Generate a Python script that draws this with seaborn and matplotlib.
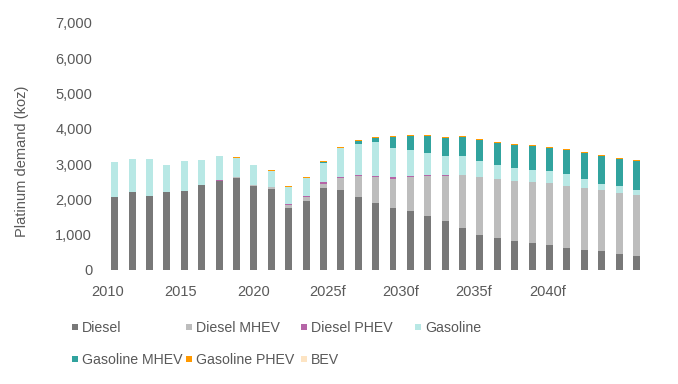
import matplotlib
matplotlib.use("Agg")
import matplotlib.pyplot as plt
from matplotlib.lines import Line2D
import numpy as np
import pandas as pd
import seaborn as sns

years = list(range(2010, 2041))
series = ["Diesel", "Diesel MHEV", "Diesel PHEV", "Gasoline",
          "Gasoline MHEV", "Gasoline PHEV", "BEV"]

diesel = [2068, 2210, 2096, 2210, 2238, 2408, 2521, 2606, 2380, 2295,
          1756, 1955, 2323, 2266, 2068, 1898, 1756, 1671, 1530, 1388,
          1190, 992, 907, 822, 765, 708, 623, 567, 538, 453, 396]
diesel_mhev = [0, 0, 0, 0, 0, 0, 0, 30, 30, 55,
               85, 113, 113, 340, 595, 736, 821, 963, 1133, 1275,
               1501, 1643, 1671, 1700, 1728, 1756, 1756, 1756, 1728, 1728, 1728]
diesel_phev = [0, 0, 0, 0, 0, 0, 30, 0, 0, 0,
               30, 30, 57, 28, 28, 28, 57, 28, 28, 15,
               10, 0, 0, 0, 0, 0, 0, 0, 0, 0, 0]
gasoline = [992, 935, 1049, 765, 850, 708, 679, 537, 565, 455,
            480, 517, 538, 822, 878, 964, 822, 737, 623, 551,
            528, 453, 397, 368, 340, 341, 341, 255, 170, 199, 142]
gasoline_mhev = [0, 0, 0, 0, 0, 0, 0, 0, 0, 0,
                 0, 0, 28, 10, 85, 113, 311, 397, 482, 510,
                 538, 595, 623, 652, 680, 652, 680, 736, 793, 765, 822]
gasoline_phev = [0, 0, 0, 0, 0, 0, 0, 30, 0, 30,
                 30, 20, 28, 28, 28, 28, 28, 28, 28, 28,
                 28, 28, 28, 28, 28, 28, 28, 28, 28, 28, 28]
bev = [0] * 31

xtick_labels = ["2010", "2015", "2020", "2025f", "2030f", "2035f", "2040f"]
ytick_values = [0, 1000, 2000, 3000, 4000, 5000, 6000, 7000]

colors = {
    "Diesel": "#787878",
    "Diesel MHEV": "#bdbdbd",
    "Diesel PHEV": "#b565a7",
    "Gasoline": "#b8e8e5",
    "Gasoline MHEV": "#31a39e",
    "Gasoline PHEV": "#ff9900",
    "BEV": "#fde4c3",
}

values = [diesel, diesel_mhev, diesel_phev, gasoline, gasoline_mhev, gasoline_phev, bev]
rows = []
for name, vals in zip(series, values):
    for y, v in zip(years, vals):
        rows.append({"year": y, "series": name, "value": v})
df = pd.DataFrame(rows)

sns.set_theme(style="white")
plt.rcParams["font.family"] = ["Liberation Sans", "DejaVu Sans"]
text_color = "#595959"

fig = plt.figure(figsize=(6.78, 3.84), dpi=100)
ax = fig.add_axes([0.1565, 0.297, 0.795, 0.6435])

sns.histplot(data=df, x="year", weights="value", hue="series",
             hue_order=series[::-1], multiple="stack", discrete=True,
             shrink=0.4, palette=colors, alpha=1, linewidth=0,
             edgecolor="none", legend=False, ax=ax)

ax.set_xlim(2009.5, 2040.5)
ax.set_ylim(0, 7000)
ax.set_yticks(ytick_values)
ax.set_yticklabels([f"{v:,}" for v in ytick_values])
tick_pos = np.linspace(2009.57, 2034.87, len(xtick_labels))
ax.set_xticks(tick_pos)
ax.set_xticklabels(xtick_labels)
ax.tick_params(axis="both", length=0, labelsize=10.5, colors=text_color)
ax.tick_params(axis="x", pad=11)
ax.tick_params(axis="y", pad=10)
ax.set_xlabel("")
ax.set_ylabel("Platinum demand (koz)", fontsize=10.5, color=text_color)
ax.yaxis.set_label_coords(-0.1427, 0.44)
for s in ax.spines.values():
    s.set_visible(False)
ax.grid(False)

# legend: 4 equal-width columns, 2 rows
col_x = [0.1047, 0.2729, 0.4425, 0.612]
order = [[0, 4], [1, 5], [2, 6], [3]]
for cx, idxs in zip(col_x, order):
    handles = [Line2D([], [], marker="s", linestyle="none", markersize=4.6,
                      markerfacecolor=colors[series[i]], markeredgewidth=0)
               for i in idxs]
    labels = [series[i] for i in idxs]
    fig.legend(handles, labels, loc="upper left", bbox_to_anchor=(cx, 0.1646),
               frameon=False, handlelength=0.5, handletextpad=0.25,
               labelspacing=1.25, fontsize=10.2, labelcolor=text_color,
               borderaxespad=0, borderpad=0)

fig.savefig("out.png", dpi=100)
